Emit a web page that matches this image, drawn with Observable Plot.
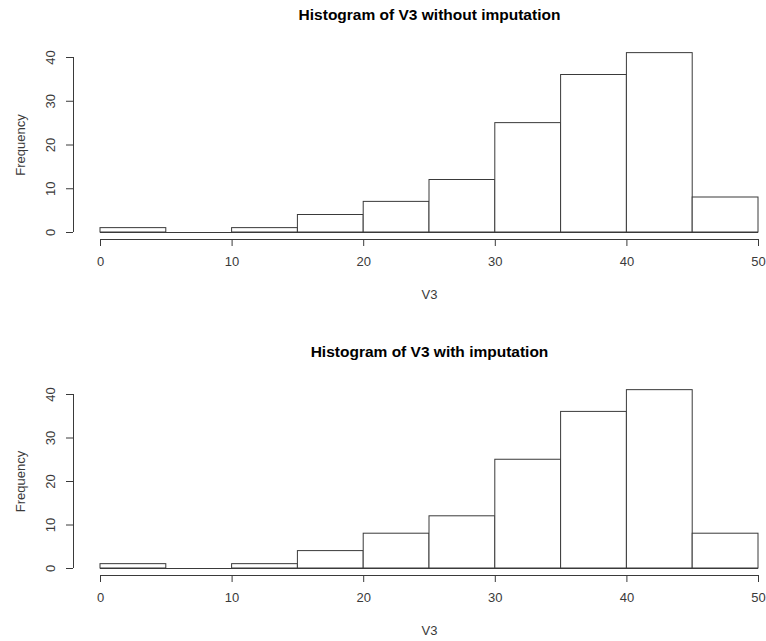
<!DOCTYPE html>
<html>
<head>
<meta charset="utf-8">
<script src="https://cdn.jsdelivr.net/npm/d3@7"></script>
<script src="https://cdn.jsdelivr.net/npm/@observablehq/plot@0.6"></script>
<style>
  html, body { margin: 0; padding: 0; background: #fff; }
  svg { display: block; }
</style>
</head>
<body>
<div id="chart"></div>
<script>
const binEdges = [0, 5, 10, 15, 20, 25, 30, 35, 40, 45, 50];
const countsWithout = [1, 0, 1, 4, 7, 12, 25, 36, 41, 8];
const countsWith = [1, 0, 1, 4, 8, 12, 25, 36, 41, 8];
const xTicks = [0, 10, 20, 30, 40, 50];
const yTicks = [0, 10, 20, 30, 40];
const titles = ["Histogram of V3 without imputation", "Histogram of V3 with imputation"];
const xLabel = "V3";
const yLabel = "Frequency";

const ink = "#3a3a3a";
const font = "'Liberation Sans', Arial, Helvetica, sans-serif";

function panel(title, counts, height, marginTop, marginBottom, titleY) {
  const bins = counts.map((c, i) => ({x1: binEdges[i], x2: binEdges[i + 1], count: c}));
  return Plot.plot({
    width: 766,
    height,
    marginTop,
    marginBottom,
    marginLeft: 100,
    marginRight: 8,
    style: {fontFamily: font, fontSize: "13px", color: ink, background: "#fff"},
    x: {domain: [0, 50], axis: null},
    y: {domain: [0, 40], axis: null},
    marks: [
      Plot.rectY(bins, {x1: "x1", x2: "x2", y: "count", fill: "white", stroke: ink, strokeWidth: 1}),
      Plot.ruleY([0], {x1: 0, x2: 50, stroke: ink, strokeWidth: 1}),
      // x axis (R style, offset below)
      Plot.ruleY([0], {x1: 0, x2: 50, dy: 7, stroke: ink, strokeWidth: 1}),
      Plot.axisX(xTicks, {tickSize: 7, dy: 7, tickPadding: 10, stroke: ink, fill: ink, fontSize: 13, label: null}),
      // y axis
      Plot.ruleX([0], {y1: 0, y2: 40, dx: -27, stroke: ink, strokeWidth: 1}),
      Plot.axisY(yTicks, {tickSize: 7, dx: -27, tickFormat: () => "", stroke: ink, label: null}),
      Plot.text(yTicks, {y: (d) => d, text: (d) => String(d), frameAnchor: "left", dx: -50, rotate: -90, textAnchor: "middle", lineAnchor: "middle", fill: ink, fontSize: 13}),
      // axis titles
      Plot.text([yLabel], {frameAnchor: "left", dx: -80, rotate: -90, textAnchor: "middle", lineAnchor: "middle", fill: ink, fontSize: 13}),
      Plot.text([xLabel], {frameAnchor: "bottom", dy: 62, textAnchor: "middle", lineAnchor: "middle", fill: ink, fontSize: 13}),
      // title
      Plot.text([title], {frameAnchor: "top", dy: titleY - marginTop, textAnchor: "middle", lineAnchor: "middle", fill: "#000", fontSize: 15.5, fontWeight: "bold"})
    ]
  });
}

const root = document.getElementById("chart");
root.appendChild(panel(titles[0], countsWithout, 310, 57, 78, 15));
root.appendChild(panel(titles[1], countsWith, 331, 84, 73, 42));
</script>
</body>
</html>
